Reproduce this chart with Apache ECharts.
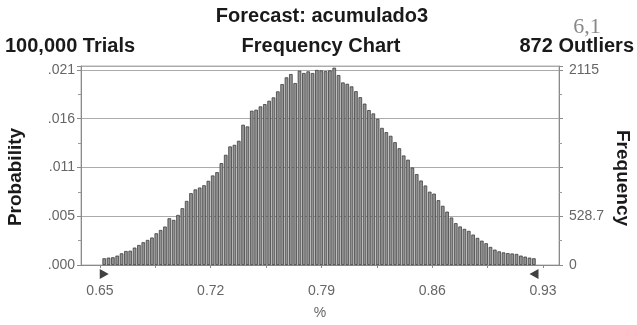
<!DOCTYPE html>
<html><head><meta charset="utf-8">
<script src="https://cdn.jsdelivr.net/npm/echarts@6/dist/echarts.min.js"></script>
<style>html,body{margin:0;padding:0;background:#fff}#c{width:637px;height:325px}</style>
</head><body><div id="c"></div>
<script>
// Bins of the frequency chart (100 cells)
const binStart = 0.6513;
const binWidth = 0.002743;
const frequencies = [
  73, 80, 84, 102, 127, 152, 155, 189, 217, 247,
  272, 298, 344, 380, 417, 507, 489, 543, 616, 695,
  779, 820, 840, 865, 913, 971, 1007, 1105, 1195, 1286,
  1303, 1347, 1521, 1503, 1673, 1684, 1720, 1745, 1781, 1818,
  1883, 1962, 2035, 2071, 1973, 2107, 2082, 2100, 2082, 2115,
  2110, 2102, 2110, 2140, 2060, 1980, 1965, 1937, 1885, 1820,
  1750, 1680, 1644, 1585, 1487, 1441, 1401, 1332, 1266, 1188,
  1142, 1057, 986, 916, 862, 795, 774, 703, 642, 579,
  515, 454, 418, 392, 370, 330, 294, 264, 236, 196,
  167, 148, 137, 129, 125, 120, 102, 91, 80, 73
];
const freqTicks = [0, 528.75, 1057.5, 1586.25, 2115];
const probLabels = ['.000', '.005', '.011', '.016', '.021'];
const freqLabels = ['0', '528.7', '', '', '2115'];
const xLabelTicks = [0.65, 0.72, 0.79, 0.86, 0.93];
const xMinorTicks = [0.65, 0.685, 0.72, 0.755, 0.79, 0.825, 0.86, 0.895, 0.93];
const endMarks = [0.6527, 0.9243];
const xMin = 0.638, xMax = 0.9401, yMax = 2158;

const barData = frequencies.map((f, i) => [binStart + (i + 0.5) * binWidth, f]);

function tickIndex(v) {
  for (let i = 0; i < freqTicks.length; i++) if (Math.abs(freqTicks[i] - v) < 0.01) return i;
  return -1;
}

const chart = echarts.init(document.getElementById('c'), null, {renderer: 'canvas'});
const font = '"Liberation Sans", Arial, sans-serif';
const yCommon = {
  type: 'value', min: 0, max: yMax, interval: 528.75,
  axisLine: {show: true, lineStyle: {color: '#8a8a8a', width: 1}},
  axisTick: {show: true, length: 4, lineStyle: {color: '#8a8a8a'}},
  minorTick: {show: true, splitNumber: 2, length: 3, lineStyle: {color: '#9a9a9a'}},
};
chart.setOption({
  animation: false,
  backgroundColor: '#fff',
  grid: {left: 81, right: 78, top: 66, bottom: 58, show: true, borderColor: '#b0b0b0', borderWidth: 1},
  xAxis: {
    type: 'value', min: xMin, max: xMax,
    axisLine: {show: true, onZero: false, lineStyle: {color: '#8a8a8a'}},
    axisTick: {show: true, customValues: xMinorTicks, length: 3, lineStyle: {color: '#8a8a8a'}},
    axisLabel: {customValues: xLabelTicks, formatter: v => v.toFixed(2), color: '#666', fontSize: 14, fontFamily: font, margin: 19},
    splitLine: {show: false},
    name: '%', nameLocation: 'middle', nameGap: 41,
    nameTextStyle: {color: '#666', fontSize: 14, fontFamily: font}
  },
  yAxis: [
    Object.assign({}, yCommon, {
      position: 'left',
      splitLine: {show: true, lineStyle: {color: '#ababab', width: 1}},
      axisLabel: {color: '#666', fontSize: 14, fontFamily: font, margin: 6,
        formatter: v => { const i = tickIndex(v); return i < 0 ? '' : probLabels[i]; }}
    }),
    Object.assign({}, yCommon, {
      position: 'right',
      splitLine: {show: false},
      axisLabel: {color: '#666', fontSize: 14, fontFamily: font, margin: 10,
        formatter: v => { const i = tickIndex(v); return i < 0 ? '' : freqLabels[i]; }}
    })
  ],
  series: [
    {
      type: 'bar', yAxisIndex: 1, data: barData, barWidth: 3.6,
      itemStyle: {color: '#929292', borderColor: '#3e3e3e', borderWidth: 0.8},
      z: 3
    },
    {
      type: 'scatter', yAxisIndex: 1, clip: false,
      data: [
        {value: [endMarks[0], 0], symbolRotate: -90},
        {value: [endMarks[1], 0], symbolRotate: 90}
      ],
      symbol: 'triangle', symbolSize: [10, 9], symbolOffset: [0, 9],
      itemStyle: {color: '#111'}, z: 5
    }
  ],
  graphic: [
    {type: 'text', x: 322, y: 16, style: {text: 'Forecast: acumulado3', font: 'bold 20px ' + font, fill: '#1a1a1a', align: 'center', verticalAlign: 'middle'}},
    {type: 'text', x: 5, y: 46, style: {text: '100,000 Trials', font: 'bold 20px ' + font, fill: '#1a1a1a', align: 'left', verticalAlign: 'middle'}},
    {type: 'text', x: 321, y: 46, style: {text: 'Frequency Chart', font: 'bold 20px ' + font, fill: '#1a1a1a', align: 'center', verticalAlign: 'middle'}},
    {type: 'text', x: 634, y: 46, style: {text: '872 Outliers', font: 'bold 20px ' + font, fill: '#1a1a1a', align: 'right', verticalAlign: 'middle'}},
    {type: 'text', x: 587, y: 27, style: {text: '6,1', font: '22px "Liberation Serif", "DejaVu Serif", serif', fill: '#888', align: 'center', verticalAlign: 'middle'}},
    {type: 'text', x: 16, y: 177, rotation: Math.PI / 2, style: {text: 'Probability', font: 'bold 19px ' + font, fill: '#1a1a1a', align: 'center', verticalAlign: 'middle'}},
    {type: 'text', x: 622, y: 178, rotation: -Math.PI / 2, style: {text: 'Frequency', font: 'bold 19px ' + font, fill: '#1a1a1a', align: 'center', verticalAlign: 'middle'}}
  ]
});
</script>
</body></html>
